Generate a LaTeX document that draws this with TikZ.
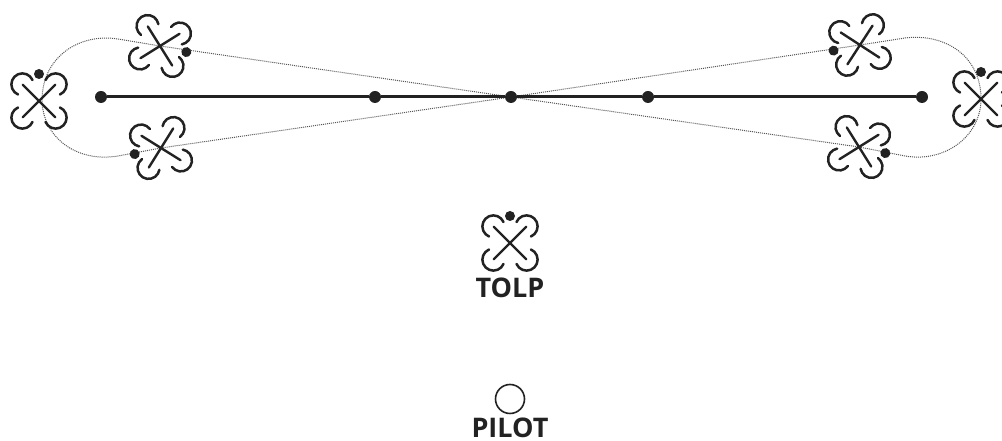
\documentclass[tikz,border=0pt]{standalone}
\usepackage{fontspec}
\setmainfont{Open Sans}
\definecolor{ink}{HTML}{222222}
\definecolor{trail}{HTML}{555555}
\tikzset{
  x=1pt,y=1pt,
  waypoint/.style={circle,fill=ink,inner sep=0pt,minimum size=12pt},
  leg/.style={draw=ink,line width=3pt},
  trailline/.style={draw=trail,line width=1pt,densely dotted},
  lbl/.style={font=\bfseries\fontsize{27}{27}\selectfont,text=ink,anchor=base,inner sep=0pt},
  pics/quad/.style={code={
    \foreach \a in {45,135,225,315}{
      \draw[ink,line width=2.4pt,line cap=round] (0,0) -- (\a:23);
      \draw[ink,line width=2.5pt,line cap=round] ([shift={(\a:23.5)}]\a-112:11) arc[start angle=\a-112,end angle=\a+112,radius=11pt];
    }
    \fill[ink] (0,27) circle[radius=5pt];
  }}
}
\begin{document}
\begin{tikzpicture}
\useasboundingbox (0,0) rectangle (1002,441);
\coordinate (tl) at (160,395);
\coordinate (bl) at (161,293);
\coordinate (tr) at (860,396);
\coordinate (br) at (859,294);
\coordinate (lf) at (39,340);
\coordinate (rt) at (981,342);
\coordinate (tolpc) at (510,198);
% trail
\node[waypoint] (w3) at (511,344) {};
\draw[trailline] (w3) -- (tl) -- (118,402) .. controls (80,408) and (43,385) .. (42,342)
  .. controls (42,305) and (75,278) .. (118,285) -- (bl) -- (w3);
\draw[trailline] (w3) -- (tr) -- (905,403) .. controls (945,408) and (981,385) .. (981,342)
  .. controls (981,305) and (945,278) .. (905,285) -- (br) -- (w3);
% line
\node[waypoint] (w1) at (101,344) {};
\node[waypoint] (w2) at (375,344) {};
\node[waypoint] (w4) at (648,344) {};
\node[waypoint] (w5) at (922,344) {};
\draw[leg] (w1) -- (w2) -- (w3) -- (w4) -- (w5);
% drones
\pic[rotate=-103] at (tl) {quad};
\pic[rotate=103] at (bl) {quad};
\pic[rotate=102] at (tr) {quad};
\pic[rotate=-103] at (br) {quad};
\pic at (lf) {quad};
\pic at (rt) {quad};
\pic at (tolpc) {quad};
\node[lbl] (tolp) at (510,143) {TOLP};
\node[circle,draw=ink,line width=1.6pt,inner sep=0pt,minimum size=29pt] (pilotc) at (510,42) {};
\node[lbl] (pilot) at (510,3.5) {PILOT};
\end{tikzpicture}
\end{document}
